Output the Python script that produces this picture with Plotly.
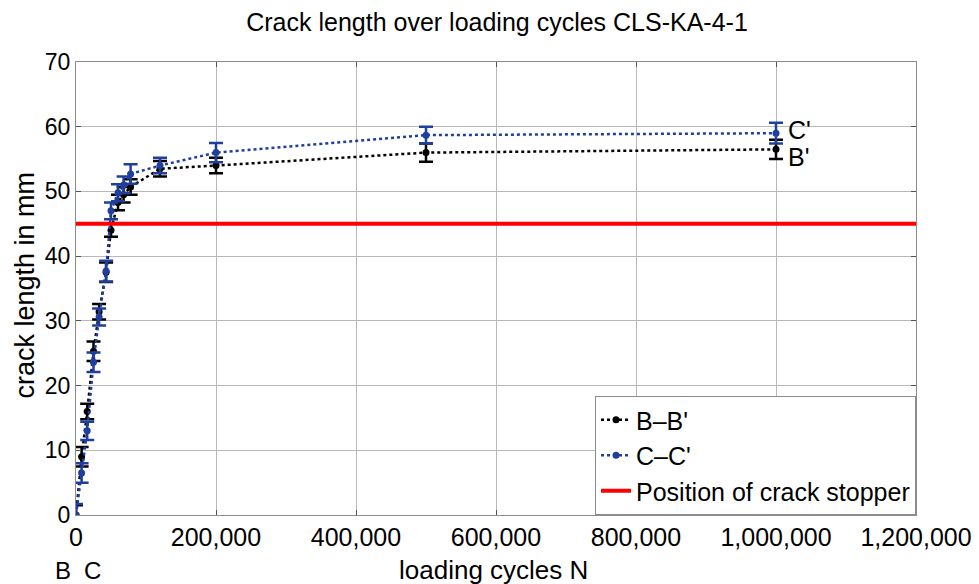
import plotly.graph_objects as go

# ---- data ----
cycles = [0, 8000, 16000, 25000, 33000, 43000, 50000, 60000, 68000, 78000, 120000, 200000, 500000, 1000000]
crack_bb = [0, 9.0, 16.0, 25.3, 31.4, 37.5, 44.0, 48.3, 49.5, 50.7, 53.5, 54.0, 56.0, 56.5]
err_bb = [1.5, 1.5, 1.2, 1.5, 1.2, 1.5, 1.0, 1.2, 1.2, 1.2, 1.2, 1.2, 1.4, 1.5]
crack_cc = [0, 6.5, 13.0, 23.6, 30.6, 37.7, 47.0, 49.8, 51.0, 52.7, 54.0, 56.0, 58.7, 59.0]
err_cc = [1.7, 1.5, 1.4, 1.5, 1.3, 1.6, 1.3, 1.3, 1.3, 1.5, 1.2, 1.5, 1.3, 1.6]
crack_stopper = 45
x_range = [0, 1200000]
y_range = [0, 70]

FONT = "Liberation Sans, Arial, sans-serif"
BLUE = "#1f3f9e"

fig = go.Figure()
fig.add_trace(go.Scatter(
    x=cycles, y=crack_bb, name="B\u2013B'", mode="lines+markers",
    line=dict(color="black", width=2.5, dash="dot"),
    marker=dict(color="black", size=7),
    error_y=dict(type="data", array=err_bb, color="black", thickness=2.5, width=7),
))
fig.add_trace(go.Scatter(
    x=cycles, y=crack_cc, name="C\u2013C'", mode="lines+markers",
    line=dict(color=BLUE, width=2.5, dash="dot"),
    marker=dict(color=BLUE, size=7),
    error_y=dict(type="data", array=err_cc, color=BLUE, thickness=2.5, width=7),
))
fig.add_trace(go.Scatter(
    x=x_range, y=[crack_stopper, crack_stopper], name="Position of crack stopper",
    mode="lines", line=dict(color="#ff0000", width=4),
))

fig.add_annotation(x=cycles[-1], y=crack_cc[-1], text="C'", showarrow=False,
                   xanchor="left", xshift=10, yshift=3, font=dict(size=25, color="black", family=FONT))
fig.add_annotation(x=cycles[-1], y=crack_bb[-1], text="B'", showarrow=False,
                   xanchor="left", xshift=10, yshift=-8, font=dict(size=25, color="black", family=FONT))
fig.add_annotation(x=0, y=0, xref="paper", yref="paper", text="B", showarrow=False,
                   xanchor="center", yanchor="middle", xshift=-13, yshift=-55,
                   font=dict(size=24, color="black", family=FONT))
fig.add_annotation(x=0, y=0, xref="paper", yref="paper", text="C", showarrow=False,
                   xanchor="center", yanchor="middle", xshift=16, yshift=-55,
                   font=dict(size=24, color="black", family=FONT))
# axis titles
fig.add_annotation(x=0.5, y=0, xref="paper", yref="paper", text="loading cycles N", showarrow=False,
                   xanchor="center", yanchor="middle", xshift=-3, yshift=-55,
                   font=dict(size=26, color="black", family=FONT))
fig.add_annotation(x=0, y=0.5, xref="paper", yref="paper", text="crack length in mm", showarrow=False,
                   textangle=-90, xanchor="center", yanchor="middle", xshift=-52, yshift=3,
                   font=dict(size=27, color="black", family=FONT))

axis_common = dict(
    showline=True, linecolor="#8c8c8c", linewidth=1, mirror="ticks",
    showgrid=True, gridcolor="#b8b8b8", gridwidth=1,
    ticks="inside", ticklen=5, tickcolor="#555555",
    zeroline=False, automargin=False,
)

fig.update_layout(
    width=979, height=584,
    margin=dict(l=76, r=63, t=62, b=69),
    paper_bgcolor="white", plot_bgcolor="white",
    font=dict(family=FONT, color="black"),
    title=dict(text="Crack length over loading cycles CLS-KA-4-1", x=0.5077, xanchor="center",
               y=0.962, yanchor="middle", font=dict(size=25, family=FONT, color="black")),
    xaxis=dict(range=x_range, dtick=200000, tickformat=",d",
               tickfont=dict(size=25, family=FONT, color="black"), **axis_common),
    yaxis=dict(range=y_range, dtick=10,
               tickfont=dict(size=23, family=FONT, color="black"), **axis_common),
    legend=dict(x=1, y=0, xanchor="right", yanchor="bottom", bgcolor="white",
                bordercolor="#8c8c8c", borderwidth=1,
                font=dict(size=25, family=FONT, color="black"), itemwidth=30,
                tracegroupgap=0),
    showlegend=True,
)

fig.write_html("out.html")
